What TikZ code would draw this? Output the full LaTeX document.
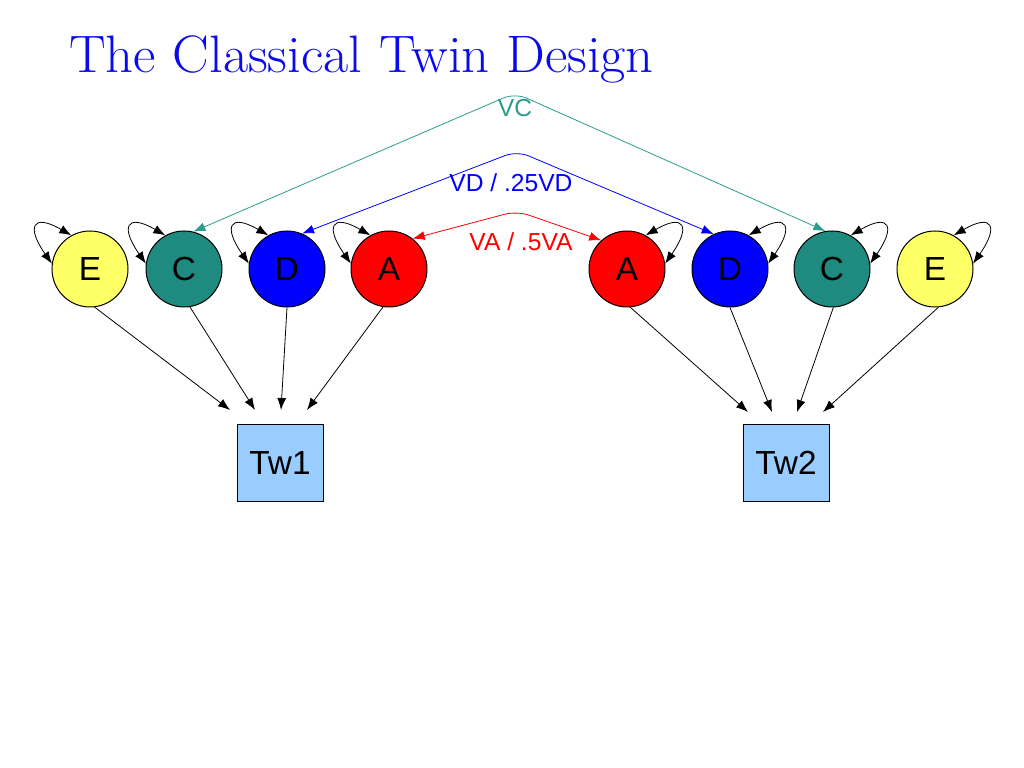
\documentclass[tikz,border=0pt]{standalone}
\usepackage{xcolor}
\usepackage{fontspec}
\usepackage{tikz}
\usetikzlibrary{calc}
\usetikzlibrary{arrows.meta}
\newfontfamily\arialfont{Liberation Sans}

\begin{document}
\begin{tikzpicture}[
    latent/.style={circle, draw=black, line width=0.02cm, minimum size=1.52cm, inner sep=0pt, font=\arialfont\fontsize{19}{19}\selectfont},
    twin/.style={rectangle, draw=black, line width=0.02cm, fill=r153g204b255, minimum width=1.72cm, minimum height=1.54cm, inner sep=0pt, font=\arialfont\fontsize{19}{19}\selectfont},
    path/.style={line width=0.016cm, -{Latex[length=0.24cm,width=0.18cm]}},
    selfloop/.style={line width=0.016cm, {Latex[length=0.24cm,width=0.18cm]}-{Latex[length=0.24cm,width=0.18cm]}},
    covar/.style={line width=0.016cm, rounded corners=0.25cm, {Latex[length=0.24cm,width=0.18cm]}-{Latex[length=0.24cm,width=0.18cm]}},
    covlabel/.style={font=\arialfont\fontsize{14}{14}\selectfont, inner sep=0pt}
  ]
                        \useasboundingbox (0,0) rectangle (20.480000,15.360000);

                        % Changing colors
                        \definecolor{r255g255b102}{rgb}{1.000000,1.000000,0.400000}%
                        \definecolor{r30g138b128}{rgb}{0.117647,0.541176,0.501961}%
                        \definecolor{r42g157b143}{rgb}{0.164706,0.615686,0.560784}%
                        \definecolor{r153g204b255}{rgb}{0.600000,0.800000,1.000000}%
                        \definecolor{r10g10b235}{rgb}{0.039216,0.039216,0.921569}%

                        % Writing title
                        \node (title) [anchor=base west, inner sep=0pt, text=r10g10b235, font=\fontsize{30}{30}\selectfont] at (1.380000,13.900000) {\scalebox{1.04}[1]{The Classical Twin Design}};

                        % Marking latent factors of twin 1
                        \node (E1) [latent, fill=r255g255b102] at (1.800000,9.980000) {E};
                        \node (C1) [latent, fill=r30g138b128] at (3.680000,9.980000) {C};
                        \node (D1) [latent, fill=blue] at (5.740000,9.980000) {D};
                        \node (A1) [latent, fill=red] at (7.780000,9.980000) {A};

                        % Marking latent factors of twin 2
                        \node (A2) [latent, fill=red] at (12.540000,9.980000) {A};
                        \node (D2) [latent, fill=blue] at (14.600000,9.980000) {D};
                        \node (C2) [latent, fill=r30g138b128] at (16.640000,9.980000) {C};
                        \node (E2) [latent, fill=r255g255b102] at (18.700000,9.980000) {E};

                        % Marking observed twins
                        \node (Tw1) [twin] at (5.600000,6.100000) {Tw1};
                        \node (Tw2) [twin] at (15.720000,6.100000) {Tw2};

                        % Free ends above the boxes
                        \coordinate (t1e) at (4.600000,7.160000);
                        \coordinate (t1c) at (5.100000,7.160000);
                        \coordinate (t1d) at (5.620000,7.160000);
                        \coordinate (t1a) at (6.140000,7.160000);
                        \coordinate (t2a) at (14.960000,7.120000);
                        \coordinate (t2d) at (15.440000,7.120000);
                        \coordinate (t2c) at (15.940000,7.120000);
                        \coordinate (t2e) at (16.460000,7.120000);

                        % Drawing paths to twin 1
                        \draw [path] (E1.-83) -- (t1e);%
                        \draw [path] (C1.-81) -- (t1c);%
                        \draw [path] (D1.-90) -- (t1d);%
                        \draw [path] (A1.-99) -- (t1a);%

                        % Drawing paths to twin 2
                        \draw [path] (A2.-85) -- (t2a);%
                        \draw [path] (D2.-90) -- (t2d);%
                        \draw [path] (C2.-88) -- (t2c);%
                        \draw [path] (E2.-85) -- (t2e);%

                        % Drawing variances of twin 1
                        \foreach \f in {E1,C1,D1,A1}
                          \draw [selfloop] (\f.172) .. controls +(125:0.9) and +(150:0.9) .. (\f.119);%

                        % Drawing variances of twin 2
                        \foreach \f in {A2,D2,C2,E2}
                          \draw [selfloop] (\f.8) .. controls +(55:0.9) and +(30:0.9) .. (\f.61);%

                        % Drawing covariance C
                        \coordinate (vctop) at (10.300000,13.500000);
                        \draw [covar, r42g157b143] (C1.76) -- (vctop) -- (C2.100);%
                        \node (vc) [covlabel, text=r42g157b143] at (10.300000,13.200000) {VC};

                        % Drawing covariance D
                        \coordinate (vdtop) at (10.340000,12.340000);
                        \draw [covar, blue] (D1.67) -- (vdtop) -- (D2.115);%
                        \node (vd) [covlabel, text=blue] at (10.220000,11.700000) {VD / .25VD};

                        % Drawing covariance A
                        \coordinate (vatop) at (10.340000,11.140000);
                        \draw [covar, red] (A1.52) -- (vatop) -- (A2.132);%
                        \node (va) [covlabel, text=red] at (10.420000,10.520000) {VA / .5VA};
\end{tikzpicture}
\end{document}
